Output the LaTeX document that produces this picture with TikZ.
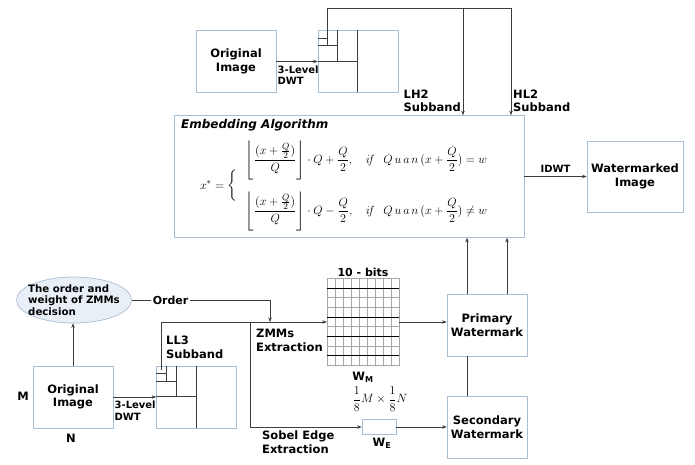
\documentclass[tikz,border=0pt]{standalone}
\usepackage{amsmath,amssymb}
\usepackage[no-math]{fontspec}
\setmainfont{DejaVu Sans}
\usetikzlibrary{positioning,arrows.meta,calc,shapes.geometric}
\definecolor{boxblue}{HTML}{A9BDD3}
\definecolor{lngray}{HTML}{3C3C3C}
\definecolor{elfill}{HTML}{E8EFF7}

\begin{document}
\begin{tikzpicture}[x=1pt,y=-1pt,font=\bfseries\fontsize{11.5}{13.5}\selectfont,
  bx/.style={draw=boxblue,line width=0.7pt,align=center,minimum width=80pt,minimum height=62pt,inner sep=1pt},
  ar/.style={-{Stealth[length=4.5pt,width=3.5pt]},draw=lngray,line width=0.6pt},
  ln/.style={draw=lngray,line width=0.6pt},
  lb/.style={align=left,inner sep=0pt,font=\bfseries\fontsize{10}{11.5}\selectfont},
  lbig/.style={align=left,inner sep=0pt,font=\bfseries\fontsize{11.5}{13.5}\selectfont}]
  \useasboundingbox (0,0) rectangle (695,464);
  % top part
  \node[bx] (orig) at (236,61.5) {Original\\Image};
  \node[bx] (dwt) at (358,61.5) {};
  \node[bx,minimum width=350pt,minimum height=122pt] (emb) at (349,176.5) {};
  \node[anchor=north west,inner sep=0pt,font=\bfseries\itshape\fontsize{12}{14}\selectfont] (embt) at (181,119) {Embedding Algorithm};
  \node[font=\normalfont\fontsize{13}{15}\selectfont] (eq) at (346,186) {$x^{*}=\bigg\{\;\begin{array}{l@{\quad}l}
    \left\lfloor\dfrac{(x+\frac{Q}{2})}{Q}\right\rfloor\cdot Q+\dfrac{Q}{2}, & \mathit{if}\ \ Q\,u\,a\,n\,(x+\dfrac{Q}{2})=w\\[24pt]
    \left\lfloor\dfrac{(x+\frac{Q}{2})}{Q}\right\rfloor\cdot Q-\dfrac{Q}{2}, & \mathit{if}\ \ Q\,u\,a\,n\,(x+\dfrac{Q}{2})\neq w
  \end{array}$};
  \node[bx,minimum width=96pt,minimum height=71pt] (wmk) at (635,176.5) {Watermarked\\Image};
  \draw[ar] (orig) -- (dwt) node[lb,pos=0,below right=4pt and 1pt] (dwtl) {3-Level\\DWT};
  \coordinate (lh) at ($(dwt.north west)+(10,12)$);
  \coordinate (tl) at (463,8);
  \coordinate (tr) at (511,8);
  \draw[ar] (lh) |- (tr) -- (tr |- emb.north);
  \draw[ar] (tl) -- (tl |- emb.north);
  \node[lbig,anchor=south east] (lh2) at (461,112) {LH2\\Subband};
  \node[lbig,anchor=south west] (hl2) at (513,112) {HL2\\Subband};
  \draw[ar] (emb.east) -- node[lb,above=4pt] (idwt) {IDWT} (wmk.west);
  % bottom part
  \node[ellipse,draw=boxblue,fill=elfill,line width=0.7pt,minimum width=115pt,minimum height=46pt] (zmm) at (74,300) {};
  \node[lb,font=\bfseries\fontsize{10.2}{11.5}\selectfont] (zmmt) at (zmm.center) {The order and\\weight of ZMMs\\decision};
  \node[bx] (origb) at (73,397) {Original\\Image};
  \node[lbig] (mlab) at (23,396) {M};
  \node[lbig] (nlab) at (71,438) {N};
  \draw[ar] (origb.north) -- (origb.north |- zmm.south);
  \node[bx] (dwtb) at (196.5,397) {};
  \draw[ar] (origb) -- (dwtb) node[lb,pos=0,below right=4pt and 1pt] (dwtbl) {3-Level\\DWT};
  \foreach \d in {dwt,dwtb} {
    \draw[lngray,line width=0.5pt] ($(\d.north west)+(40,0)$) -- ($(\d.north west)+(40,62)$)
      ($(\d.north west)+(0,31)$) -- ($(\d.north west)+(40,31)$)
      ($(\d.north west)+(20,0)$) -- ($(\d.north west)+(20,31)$)
      ($(\d.north west)+(0,15.5)$) -- ($(\d.north west)+(20,15.5)$)
      ($(\d.north west)+(10,0)$) -- ($(\d.north west)+(10,15.5)$)
      ($(\d.north west)+(0,7.75)$) -- ($(\d.north west)+(10,7.75)$);
  }
  \node[lbig,anchor=north west] (ll3) at (166,336) {LL3\\Subband};
  \coordinate (ll) at ($(dwtb.north west)+(5,4)$);
  \node[minimum width=72pt,minimum height=87pt,inner sep=0pt] (wm) at (363,322) {};
  \foreach \i in {0,...,9}
    \draw[gray!70,line width=0.4pt] ($(wm.north west)+(\i*8,0)$) -- ($(wm.south west)+(\i*8,0)$);
  \foreach \j in {0,...,9}
    \draw[gray!70,line width=0.4pt] ($(wm.north west)+(0,\j*9.67)$) -- ($(wm.north east)+(0,\j*9.67)$);
  \foreach \j in {1,4,6,8}
    \draw[black,line width=0.7pt] ($(wm.north west)+(0,\j*9.67)$) -- ($(wm.north east)+(0,\j*9.67)$);
  \node[lb,font=\bfseries\fontsize{11}{13}\selectfont] (bits) at (363,272) {10 - bits};
  \node[lbig] (wml) at (363,377) {W$_{\text{M}}$};
  \coordinate (od) at (270,322);
  \draw[ar] (zmm.east) -- node[lb,pos=0.28,fill=white,inner sep=2pt,font=\bfseries\fontsize{11}{13}\selectfont] (ordl) {Order} (zmm.east -| od) -- (od);
  \draw[ar] (ll) |- (wm.west);
  \node[lbig,anchor=north west] (zmml) at (256,329) {ZMMs\\Extraction};
  \coordinate (sb) at (250,322);
  \node[draw=boxblue,line width=0.7pt,minimum width=34pt,minimum height=15pt,inner sep=0pt] (we) at (379,427) {};
  \draw[ar] (sb) |- (we.west);
  \node[lbig,anchor=north west] (sobl) at (262,431) {Sobel Edge\\Extraction};
  \node[font=\normalfont\fontsize{12}{14}\selectfont] (frac) at (380,399) {$\dfrac{1}{8}M\times\dfrac{1}{8}N$};
  \node[lbig] (wel) at (382,443) {W$_{\text{E}}$};
  \node[bx] (prim) at (487,325) {Primary\\Watermark};
  \node[bx] (sec) at (487,427) {Secondary\\Watermark};
  \draw[ar] (wm.east) -- (wm.east -| prim.west);
  \draw[ar] (we.east) -- (we.east -| sec.west);
  \draw[ln] ([xshift=-20pt]sec.north) -- ([xshift=-20pt]prim.south);
  \draw[ar] ([xshift=-20pt]prim.north) -- ([xshift=-20pt]prim.north |- emb.south);
  \draw[ar] ([xshift=20pt]prim.north) -- ([xshift=20pt]prim.north |- emb.south);
\end{tikzpicture}
\end{document}
